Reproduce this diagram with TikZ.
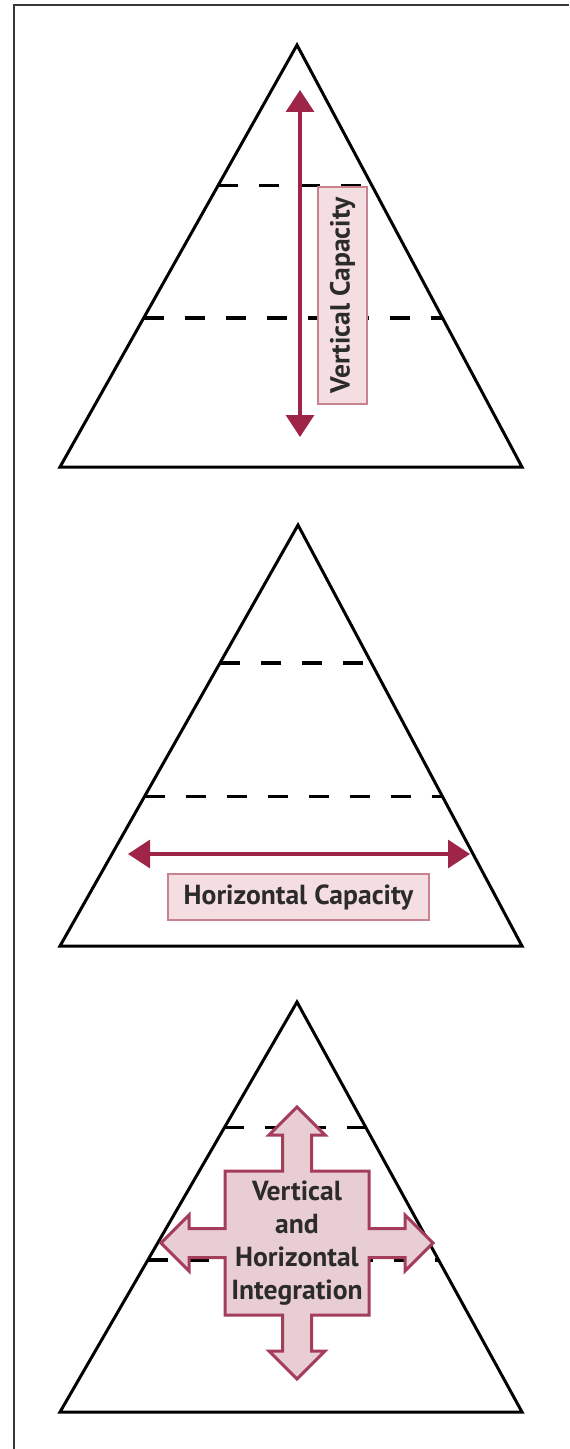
\documentclass[tikz,border=0pt]{standalone}
\usepackage{fontspec}
\setmainfont{PT Sans}
\usetikzlibrary{arrows.meta,calc,positioning}

\definecolor{capred}{HTML}{9E2448}
\definecolor{labelfill}{HTML}{F4DEE1}
\definecolor{labeledge}{HTML}{C98290}
\definecolor{crossfill}{HTML}{E8CDD3}
\definecolor{crossedge}{HTML}{A43C5C}
\definecolor{labeltext}{HTML}{2B2B2B}

\begin{document}
\begin{tikzpicture}[
  x=0.5pt, y=-0.5pt,
  frame/.style={
    draw=black!78,
    line width=1pt
  },
  pyramid/.style={
    draw=black,
    line width=1.5pt,
    line join=miter
  },
  level line/.style={
    draw=black,
    line width=1.6pt,
    dash pattern=on 10pt off 10.5pt
  },
  capacity arrow/.style={
    {Triangle[length=11pt,width=14pt]}-{Triangle[length=11pt,width=14pt]},
    draw=capred,
    line width=1.6pt
  },
  capacity label/.style={
    draw=labeledge,
    fill=labelfill,
    line width=0.6pt,
    text=labeltext,
    font=\fontsize{13.8}{16}\selectfont\bfseries,
    inner sep=0pt
  },
  integration arrow/.style={
    draw=crossedge,
    fill=crossfill,
    line width=1.5pt,
    line join=miter
  }
]
\useasboundingbox (0,0) rectangle (569,1449);

% page frame
\draw[frame] (14,1449) -- (14,5) -- (569,5);

% first pyramid: vertical capacity
\coordinate (p1-top) at (297,45);
\coordinate (p1-left) at (60,467);
\coordinate (p1-right) at (522,467);
\draw[pyramid] (p1-top) -- (p1-left) -- (p1-right) -- cycle;
\draw[level line] ($(p1-top)!0.332!(p1-left)$) -- ($(p1-top)!0.332!(p1-right)$);
\draw[level line] ($(p1-top)!0.647!(p1-left)$) -- ($(p1-top)!0.647!(p1-right)$);

\coordinate (vc-top) at (300,90);
\coordinate (vc-bottom) at (300,437);
\draw[capacity arrow] (vc-bottom) -- (vc-top);
\node[capacity label,rotate=90,minimum width=108.5pt,minimum height=24.5pt]
  (vc-label) at (342.5,295.5) {Vertical Capacity};

% second pyramid: horizontal capacity
\coordinate (p2-top) at (298,525);
\coordinate (p2-left) at (60,946);
\coordinate (p2-right) at (522,946);
\draw[pyramid] (p2-top) -- (p2-left) -- (p2-right) -- cycle;
\draw[level line] ($(p2-top)!0.328!(p2-left)$) -- ($(p2-top)!0.328!(p2-right)$);
\draw[level line] ($(p2-top)!0.644!(p2-left)$) -- ($(p2-top)!0.644!(p2-right)$);

\coordinate (hc-left) at (128,854);
\coordinate (hc-right) at (470,854);
\draw[capacity arrow] (hc-left) -- (hc-right);
\node[capacity label,minimum width=130.5pt,minimum height=23pt]
  (hc-label) at (298.5,897) {Horizontal Capacity};

% third pyramid: integration
\coordinate (p3-top) at (297,1002);
\coordinate (p3-left) at (60,1412);
\coordinate (p3-right) at (522,1412);
\draw[pyramid] (p3-top) -- (p3-left) -- (p3-right) -- cycle;
\draw[level line] ($(p3-top)!0.307!(p3-left)$) -- ($(p3-top)!0.307!(p3-right)$);
\draw[level line] ($(p3-top)!0.629!(p3-left)$) -- ($(p3-top)!0.629!(p3-right)$);

\coordinate (cross) at (297,1243);
\draw[integration arrow] (cross) ++(0,-136)
  -- ++(28,28) -- ++(-13.5,0) -- ++(0,36) -- ++(57.5,0) -- ++(0,57.5)
  -- ++(36,0) -- ++(0,-13.5) -- ++(28,28) -- ++(-28,28) -- ++(0,-13.5)
  -- ++(-36,0) -- ++(0,57.5) -- ++(-57.5,0) -- ++(0,36) -- ++(13.5,0)
  -- ++(-28,28) -- ++(-28,-28) -- ++(13.5,0) -- ++(0,-36) -- ++(-57.5,0)
  -- ++(0,-57.5) -- ++(-36,0) -- ++(0,13.5) -- ++(-28,-28) -- ++(28,-28)
  -- ++(0,13.5) -- ++(36,0) -- ++(0,-57.5) -- ++(57.5,0) -- ++(0,-36)
  -- ++(-13.5,0) -- cycle;
\node[text=labeltext,align=center,font=\fontsize{13.8}{16.5}\selectfont\bfseries]
  (integration) at (cross) {Vertical\\and\\Horizontal\\Integration};

\end{tikzpicture}
\end{document}
